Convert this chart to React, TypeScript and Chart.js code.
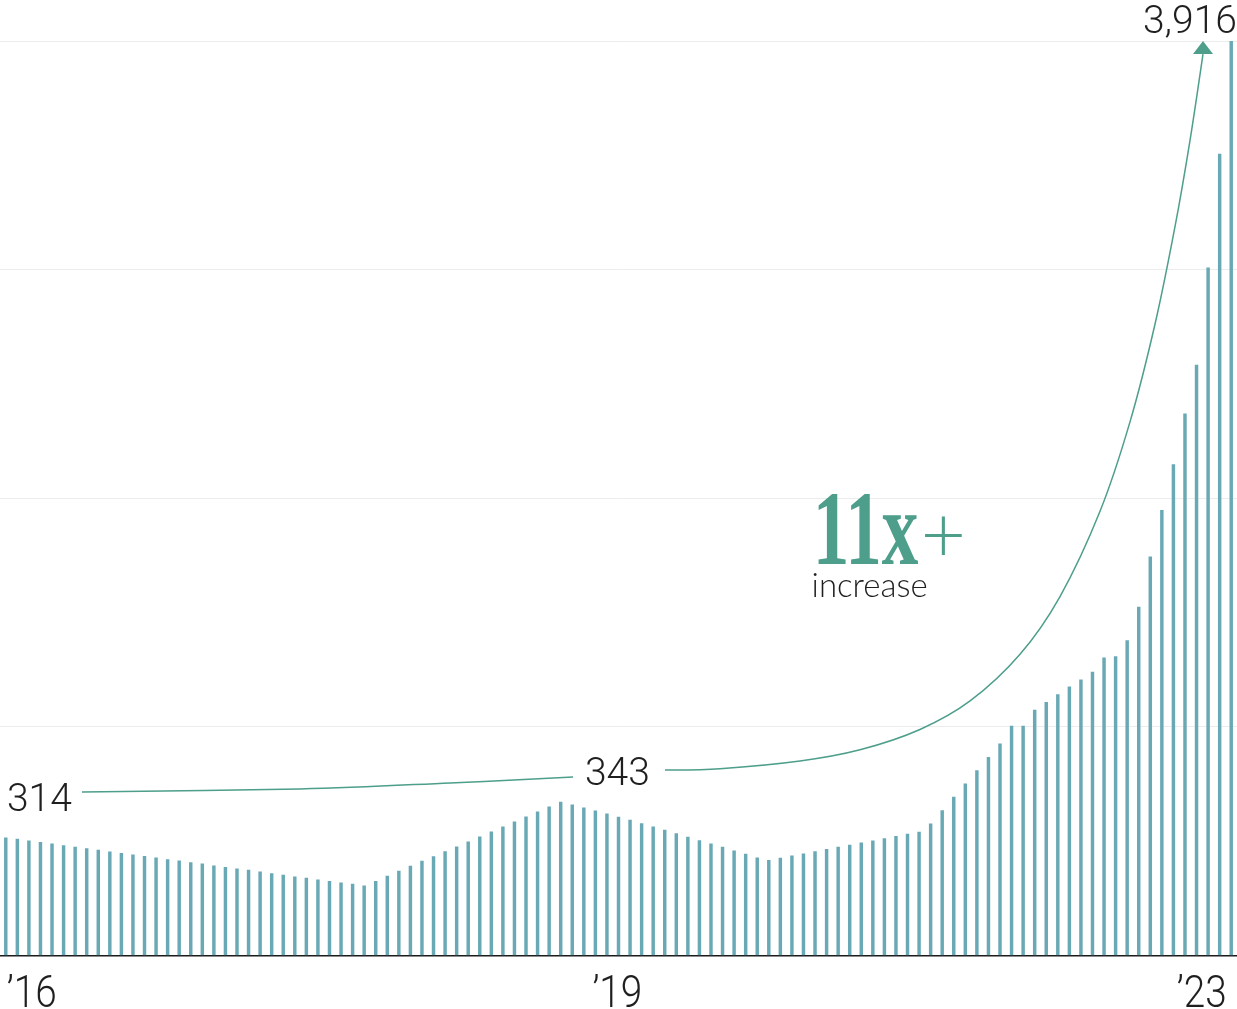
import React, { useEffect, useRef } from 'react';
import { Chart, registerables } from 'chart.js';

Chart.register(...registerables);

// Bar values (one per period)
const values: number[] = [
  504, 498, 491, 485, 478, 471, 464, 458, 451, 444, 438, 431, 425, 418, 411, 405, 398, 393, 384,
  378, 371, 366, 358, 351, 344, 337, 331, 324, 318, 311, 306, 298, 318, 340, 361, 383, 404,
  424, 445, 465, 487, 508, 530, 551, 572, 594, 615, 637, 657, 645, 632, 619, 607, 593, 580, 565,
  551, 537, 522, 507, 492, 478, 464, 448, 434, 418, 408, 417, 427, 435, 445, 455, 464,
  473, 482, 491, 501, 510, 520, 528, 564, 621, 678, 735, 792, 849, 906, 982, 982, 1051,
  1084, 1117, 1150, 1180, 1214, 1275, 1280, 1349, 1492, 1707, 1906, 2102, 2319, 2528, 2945, 3432, 3916,
];

// Year tick labels and the (fractional) bar position they sit under
const yearTickPos: number[] = [2.25, 52.9, 103.45];
const yearTickText: string[] = ['\u201916', '\u201919', '\u201923'];

const categories: string[] = values.map((_, i) => String(i + 1));

// Axis range and grid step
const yMax = 3916;
const yStep = 979;

// Annotation texts
const startLabel = '314';
const midLabel = '343';
const endLabel = '3,916';
const bigLabel = '11x';
const plusLabel = '+';
const subLabel = 'increase';

// Annotation curve anchors in data space: [bar position, value]
const curveLeft: [number, number][] = [
  [6.59, 700], [25.45, 713], [38.43, 739], [49.07, 764],
];
const curveRight: [number, number][] = [
  [57.02, 794], [61.78, 800], [68.7, 833], [73.89, 881], [79.08, 968], [83.41, 1090], [87.73, 1290],
  [91.19, 1537], [94.65, 1902], [97.25, 2286], [99.41, 2704], [101.14, 3122], [102.44, 3492], [103.56, 3860],
];
const arrowTip: [number, number] = [103.56, 3916];

const BAR_COLOR = '#69a9b5';
const GREEN = '#4d9e8a';
const TEXT = '#1f1f1f';
const NUM_FONT = 'Roboto';

function catmullRom(ctx: CanvasRenderingContext2D, pts: { x: number; y: number }[]) {
  ctx.beginPath();
  ctx.moveTo(pts[0].x, pts[0].y);
  for (let i = 0; i < pts.length - 1; i++) {
    const p0 = pts[i - 1] || pts[i];
    const p1 = pts[i];
    const p2 = pts[i + 1];
    const p3 = pts[i + 2] || p2;
    const c1x = p1.x + (p2.x - p0.x) / 6;
    const c1y = p1.y + (p2.y - p0.y) / 6;
    const c2x = p2.x - (p3.x - p1.x) / 6;
    const c2y = p2.y - (p3.y - p1.y) / 6;
    ctx.bezierCurveTo(c1x, c1y, c2x, c2y, p2.x, p2.y);
  }
  ctx.stroke();
}

const annotationPlugin = {
  id: 'annotations',
  afterDraw(chart: any) {
    const ctx: CanvasRenderingContext2D = chart.ctx;
    const xs = chart.scales.x;
    const ys = chart.scales.y;
    const P = (a: [number, number]) => ({ x: xs.getPixelForValue(a[0]), y: ys.getPixelForValue(a[1]) });
    ctx.save();
    ctx.strokeStyle = GREEN;
    ctx.lineWidth = 1.5;
    catmullRom(ctx, curveLeft.map(P));
    catmullRom(ctx, curveRight.map(P));
    // arrow head
    const tip = P(arrowTip);
    const base = P(curveRight[curveRight.length - 1]);
    ctx.fillStyle = GREEN;
    ctx.beginPath();
    ctx.moveTo(tip.x, tip.y);
    ctx.lineTo(tip.x - 10, base.y);
    ctx.lineTo(tip.x + 10, base.y);
    ctx.closePath();
    ctx.fill();

    // number labels
    ctx.fillStyle = TEXT;
    ctx.font = `300 39px ${NUM_FONT}`;
    ctx.textBaseline = 'alphabetic';
    let p = P([0.1, 619]);
    ctx.textAlign = 'left';
    ctx.fillText(startLabel, p.x, p.y);
    p = P([52.9, 730]);
    ctx.textAlign = 'center';
    ctx.fillText(midLabel, p.x, p.y);
    p = P([106.5, 3950]);
    ctx.textAlign = 'right';
    ctx.fillText(endLabel, p.x, p.y);

    // 11x+ increase
    p = P([69.8, 1676]);
    ctx.save();
    ctx.translate(p.x, p.y);
    ctx.scale(0.69, 1);
    ctx.fillStyle = GREEN;
    ctx.font = 'bold 106px "Liberation Serif"';
    ctx.textAlign = 'left';
    ctx.fillText(bigLabel, 0, 0);
    ctx.restore();
    p = P([81.1, 1792]);
    ctx.fillStyle = GREEN;
    ctx.font = '300 78px Lato';
    ctx.textAlign = 'center';
    ctx.textBaseline = 'middle';
    ctx.fillText(plusLabel, p.x, p.y);
    p = P([69.7, 1535]);
    ctx.fillStyle = TEXT;
    ctx.font = '300 33px Lato';
    ctx.textAlign = 'left';
    ctx.textBaseline = 'alphabetic';
    ctx.fillText(subLabel, p.x, p.y);

    // year labels under the axis
    ctx.fillStyle = TEXT;
    ctx.font = `300 44px ${NUM_FONT}`;
    ctx.textAlign = 'center';
    ctx.textBaseline = 'alphabetic';
    const yb = chart.chartArea.bottom + 51.5;
    yearTickPos.forEach((pos, k) => {
      const x = xs.getPixelForValue(pos);
      ctx.save();
      ctx.translate(x, yb);
      ctx.scale(0.88, 1);
      ctx.fillText(yearTickText[k], 0, 0);
      ctx.restore();
    });
    ctx.restore();
  },
};

export default function App() {
  const ref = useRef<HTMLCanvasElement | null>(null);
  useEffect(() => {
    if (!ref.current) return;
    const chart = new Chart(ref.current, {
      type: 'bar',
      data: {
        labels: categories,
        datasets: [
          {
            data: values,
            backgroundColor: BAR_COLOR,
            borderWidth: 0,
            barThickness: 2.8,
          },
        ],
      },
      options: {
        animation: false,
        responsive: false,
        devicePixelRatio: 1,
        layout: { padding: { top: 41, left: 0, right: 0, bottom: 53.5 } },
        plugins: { legend: { display: false }, tooltip: { enabled: false } },
        scales: {
          x: {
            z: 1,
            grid: { display: false, drawTicks: false },
            border: { display: true, color: '#1b1b1b', width: 1.5 },
            ticks: { display: false },
          },
          y: {
            z: 1,
            min: 0,
            max: yMax,
            grid: {
              color: (c: any) => (c.tick && c.tick.value === 0 ? 'rgba(0,0,0,0)' : '#ececec'),
              drawTicks: false,
              lineWidth: 1,
            },
            border: { display: false },
            ticks: { display: false, stepSize: yStep },
          },
        },
      },
      plugins: [annotationPlugin],
    } as any);
    return () => chart.destroy();
  }, []);
  return (
    <div style={{ position: 'absolute', left: 0, top: 0, width: 1237, height: 1009, background: '#fff' }}>
      <canvas ref={ref} width={1237} height={1009} style={{ display: 'block' }} />
    </div>
  );
}
